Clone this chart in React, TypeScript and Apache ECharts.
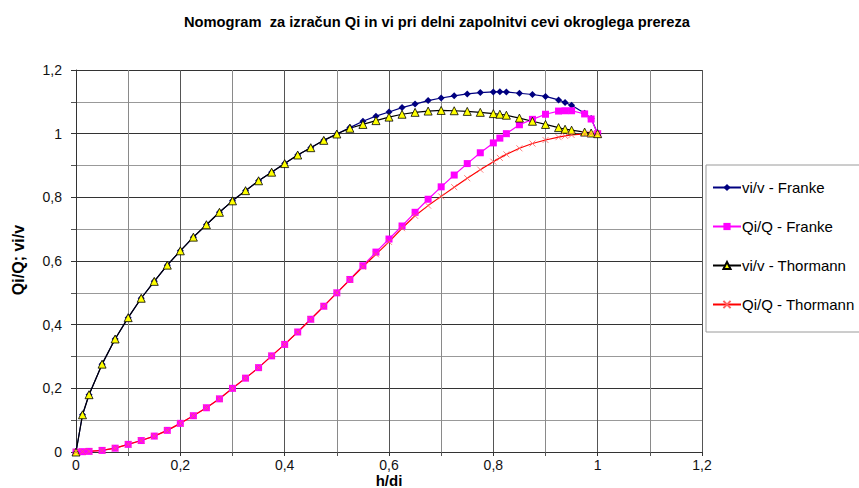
import React, { useEffect, useRef } from "react";
import * as echarts from "echarts";

const TITLE = "Nomogram  za izračun Qi in vi pri delni zapolnitvi cevi okroglega prereza";
const X_NAME = "h/di";
const Y_NAME = "Qi/Q; vi/v";

const hd = [0, 0.0125, 0.025, 0.05, 0.075, 0.1, 0.125, 0.15, 0.175, 0.2, 0.225, 0.25, 0.275, 0.3, 0.325, 0.35, 0.375, 0.4, 0.425, 0.45, 0.475, 0.5, 0.525, 0.55, 0.575, 0.6, 0.625, 0.65, 0.675, 0.7, 0.725, 0.75, 0.775, 0.8, 0.8125, 0.825, 0.85, 0.875, 0.9, 0.925, 0.9375, 0.95, 0.975, 0.9875, 1.0];

const vFranke = [0, 0.117, 0.18, 0.276, 0.355, 0.422, 0.483, 0.536, 0.587, 0.632, 0.675, 0.714, 0.753, 0.789, 0.821, 0.852, 0.879, 0.906, 0.933, 0.956, 0.979, 0.999, 1.019, 1.039, 1.055, 1.068, 1.082, 1.093, 1.104, 1.112, 1.119, 1.125, 1.129, 1.131, 1.132, 1.131, 1.127, 1.123, 1.117, 1.106, 1.098, 1.089, 1.064, 1.048, 1.0];

const qFranke = [0, 0.001, 0.002, 0.005, 0.012, 0.024, 0.036, 0.05, 0.068, 0.09, 0.114, 0.139, 0.167, 0.2, 0.232, 0.265, 0.302, 0.338, 0.377, 0.417, 0.458, 0.5, 0.542, 0.585, 0.628, 0.669, 0.71, 0.753, 0.794, 0.833, 0.87, 0.906, 0.94, 0.971, 0.986, 1.0, 1.028, 1.045, 1.061, 1.071, 1.072, 1.072, 1.062, 1.046, 1.0];

const vThormann = [0, 0.117, 0.18, 0.276, 0.355, 0.422, 0.483, 0.536, 0.587, 0.632, 0.675, 0.714, 0.753, 0.789, 0.821, 0.852, 0.879, 0.906, 0.933, 0.956, 0.979, 0.999, 1.017, 1.029, 1.041, 1.052, 1.061, 1.067, 1.071, 1.073, 1.072, 1.07, 1.067, 1.063, 1.061, 1.058, 1.049, 1.039, 1.029, 1.019, 1.014, 1.011, 1.005, 1.002, 1.0];

const qThormann = [0, 0.001, 0.002, 0.005, 0.012, 0.024, 0.036, 0.05, 0.068, 0.09, 0.114, 0.139, 0.167, 0.2, 0.232, 0.265, 0.302, 0.338, 0.377, 0.417, 0.458, 0.5, 0.541, 0.582, 0.621, 0.66, 0.703, 0.742, 0.774, 0.803, 0.832, 0.86, 0.887, 0.912, 0.924, 0.935, 0.954, 0.969, 0.98, 0.989, 0.993, 0.996, 0.999, 1.0, 1.0];

const seriesNames = ["vi/v - Franke", "Qi/Q - Franke", "vi/v - Thormann", "Qi/Q - Thormann"];

const pairs = (ys: number[]) => hd.map((x, i) => [x, ys[i]]);
const fmt = (v: number) => String(Math.round(v * 10) / 10).replace(".", ",");

export default function App() {
  const ref = useRef<HTMLDivElement>(null);
  useEffect(() => {
    if (!ref.current) return;
    const chart = echarts.init(ref.current, undefined, { renderer: "svg" });
    const font = "Arial, 'Liberation Sans', sans-serif";
    chart.setOption({
      animation: false,
      backgroundColor: "#ffffff",
      textStyle: { fontFamily: font },
      title: {
        text: TITLE,
        left: 432,
        textAlign: "center",
        top: 9,
        textStyle: { fontFamily: font, fontSize: 14.7, fontWeight: "bold", color: "#000" },
      },
      legend: {
        orient: "vertical",
        left: 706,
        top: 165,
        padding: [15, 12, 20, 6],
        itemGap: 24,
        itemWidth: 28,
        itemHeight: 9,
        borderColor: "#9a9a9a",
        borderWidth: 1,
        textStyle: { fontFamily: font, fontSize: 15, color: "#000", padding: [0, 0, 0, -4] },
        data: seriesNames,
      },
      graphic: [
        {
          type: "text",
          x: 389,
          y: 480,
          style: {
            text: X_NAME,
            font: "bold 15px Arial, 'Liberation Sans', sans-serif",
            fill: "#000",
            align: "center",
            verticalAlign: "middle",
          },
        },
        {
          type: "text",
          x: 18,
          y: 260,
          rotation: Math.PI / 2,
          style: {
            text: Y_NAME,
            font: "bold 16px Arial, 'Liberation Sans', sans-serif",
            fill: "#000",
            align: "center",
            verticalAlign: "middle",
          },
        },
      ],
      grid: { left: 76, right: 157, top: 70, bottom: 36, containLabel: false, outerBoundsMode: "none" },
      xAxis: {
        type: "value",
        min: 0,
        max: 1.2,
        interval: 0.2,
        axisLine: { show: true, lineStyle: { color: "#333", width: 1 } },
        axisTick: { show: true, length: 4, lineStyle: { color: "#333" } },
        minorTick: { show: true, splitNumber: 2, length: 4, lineStyle: { color: "#555" } },
        axisLabel: { formatter: fmt, fontSize: 14, color: "#111", margin: 6, fontFamily: font },
        splitLine: { show: true, lineStyle: { color: "#555", width: 1 } },
        minorSplitLine: { show: true, lineStyle: { color: "#8a8a8a", width: 1 } },
      },
      yAxis: {
        type: "value",
        min: 0,
        max: 1.2,
        interval: 0.2,
        axisLine: { show: true, lineStyle: { color: "#333", width: 1 } },
        axisTick: { show: true, length: 5, lineStyle: { color: "#333" } },
        minorTick: { show: true, splitNumber: 2, length: 5, lineStyle: { color: "#555" } },
        axisLabel: { formatter: fmt, fontSize: 14, color: "#111", margin: 14, fontFamily: font },
        splitLine: { show: true, lineStyle: { color: "#333", width: 1 } },
        minorSplitLine: { show: true, lineStyle: { color: "#999", width: 1 } },
      },
      series: [
        {
          name: seriesNames[0],
          type: "line",
          data: pairs(vFranke),
          symbol: "diamond",
          symbolSize: 7,
          showAllSymbol: true,
          lineStyle: { color: "#000080", width: 1.2 },
          itemStyle: { color: "#000080" },
        },
        {
          name: seriesNames[1],
          type: "line",
          data: pairs(qFranke),
          symbol: "rect",
          symbolSize: 7,
          showAllSymbol: true,
          lineStyle: { color: "#ff00ff", width: 1.2 },
          itemStyle: { color: "#ff00ff" },
        },
        {
          name: seriesNames[2],
          type: "line",
          data: pairs(vThormann),
          symbol: "triangle",
          symbolSize: 8,
          showAllSymbol: true,
          lineStyle: { color: "#000000", width: 1.2 },
          itemStyle: { color: "#ffff00", borderColor: "#000000", borderWidth: 0.8 },
        },
        {
          name: seriesNames[3],
          type: "line",
          data: pairs(qThormann),
          symbol: "path://M0,0L10,10M10,0L0,10",
          symbolSize: 6,
          showAllSymbol: true,
          lineStyle: { color: "#ff0000", width: 1.2 },
          itemStyle: { color: "none", borderColor: "#ff6060", borderWidth: 0.8 },
        },
      ],
    });
    return () => chart.dispose();
  }, []);
  return (
    <div
      ref={ref}
      style={{ position: "fixed", left: 0, top: 0, width: 859, height: 488, background: "#fff" }}
    />
  );
}
